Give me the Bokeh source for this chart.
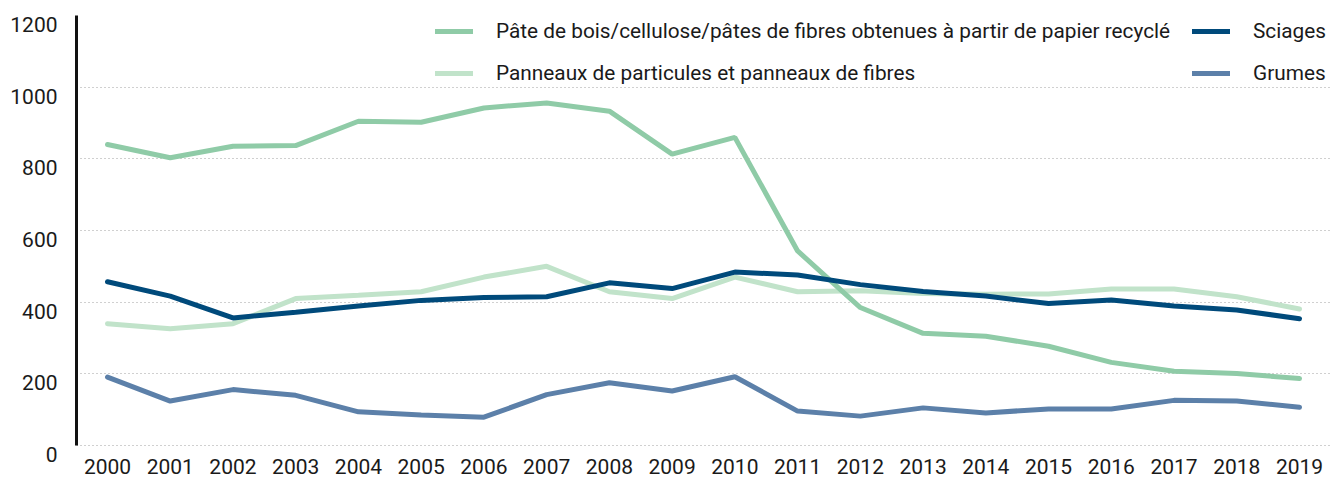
from bokeh.plotting import figure
from bokeh.models import Legend, LegendItem, FixedTicker, Range1d, LinearAxis
from bokeh.embed import file_html
from bokeh.resources import INLINE

years = list(range(2000, 2020))
pate = [840, 803, 835, 837, 905, 902, 942, 956, 933, 813, 860, 543, 385, 313, 305, 277, 232, 207, 201, 187]
panneaux = [340, 326, 340, 410, 419, 429, 470, 500, 429, 410, 470, 429, 432, 424, 422, 423, 437, 437, 415, 381]
sciages = [457, 417, 356, 372, 389, 405, 413, 415, 454, 438, 484, 476, 449, 430, 417, 396, 406, 389, 378, 354]
grumes = [191, 124, 156, 140, 94, 85, 79, 142, 175, 152, 192, 96, 82, 105, 91, 102, 102, 126, 124, 107]
y_ticks = [0, 200, 400, 600, 800, 1000, 1200]

labels = {
    "pate": "Pâte de bois/cellulose/pâtes de fibres obtenues à partir de papier recyclé",
    "panneaux": "Panneaux de particules et panneaux de fibres",
    "sciages": "Sciages",
    "grumes": "Grumes",
}
colors = {"pate": "#8fcba7", "panneaux": "#c1e3ca", "sciages": "#004a7b", "grumes": "#5c80a9"}

FONT = "Roboto"
LW = 5
BELOW = 25.1  # y-units of room under 0 so tick labels sit just below their gridlines

p = figure(width=1342, height=483, output_backend="svg", toolbar_location=None,
           x_range=Range1d(1999.506, 2019.494), y_range=Range1d(-BELOW, 1200),
           min_border_left=76, min_border_right=12, min_border_top=15, min_border_bottom=29)
p.outline_line_color = None
p.background_fill_color = "white"

r_pan = p.line(years, panneaux, line_color=colors["panneaux"], line_width=LW, line_cap="round")
r_pate = p.line(years, pate, line_color=colors["pate"], line_width=LW, line_cap="round")
r_sci = p.line(years, sciages, line_color=colors["sciages"], line_width=LW, line_cap="round")
r_gru = p.line(years, grumes, line_color=colors["grumes"], line_width=LW, line_cap="round")

legend = Legend(items=[
    LegendItem(label=labels["pate"], renderers=[r_pate]),
    LegendItem(label=labels["panneaux"], renderers=[r_pan]),
    LegendItem(label=labels["sciages"], renderers=[r_sci]),
    LegendItem(label=labels["grumes"], renderers=[r_gru]),
], ncols=2, location=(359, 369))
legend.background_fill_alpha = 0
legend.border_line_color = None
legend.padding = 0
legend.margin = 0
legend.spacing = 18
legend.glyph_width = 38
legend.glyph_height = 24
legend.label_height = 24
legend.label_width = 678
legend.label_standoff = 23
legend.label_text_font = FONT
legend.label_text_font_size = "20.8px"
legend.label_text_color = "#1a1a1a"
p.add_layout(legend, "center")

# main y axis: the black line only, from 0 to 1200
p.yaxis.ticker = FixedTicker(ticks=[])
p.yaxis.bounds = (0, 1200)
p.yaxis.axis_line_color = "#111111"
p.yaxis.axis_line_width = 3
p.yaxis.major_tick_out = 0
p.yaxis.major_tick_in = 0
p.yaxis.minor_tick_out = 0
p.yaxis.major_label_standoff = 0

# label axis on a shifted range so labels sit just below gridlines
p.extra_y_ranges = {"lab": Range1d(-0.02, 1200 + BELOW)}
lab_axis = LinearAxis(y_range_name="lab", ticker=FixedTicker(ticks=y_ticks),
                      axis_line_color=None, major_tick_line_color=None, minor_tick_line_color=None,
                      major_tick_out=0, major_tick_in=0, minor_tick_out=0,
                      major_label_text_font=FONT, major_label_text_font_size="21px",
                      major_label_text_color="#1a1a1a", major_label_standoff=19)
p.add_layout(lab_axis, "left")

p.xaxis.ticker = FixedTicker(ticks=years)
p.xaxis.axis_line_color = None
p.xaxis.major_tick_line_color = None
p.xaxis.minor_tick_line_color = None
p.xaxis.major_tick_out = 0
p.xaxis.major_label_text_font = FONT
p.xaxis.major_label_text_font_size = "21px"
p.xaxis.major_label_text_color = "#1a1a1a"
p.xaxis.major_label_standoff = 4

p.xgrid.grid_line_color = None
p.ygrid.ticker = FixedTicker(ticks=y_ticks)
p.ygrid.grid_line_color = "#a0a0a0"
p.ygrid.grid_line_dash = "1 3"
p.ygrid.grid_line_width = 1

open("out.html", "w").write(file_html(p, INLINE))
